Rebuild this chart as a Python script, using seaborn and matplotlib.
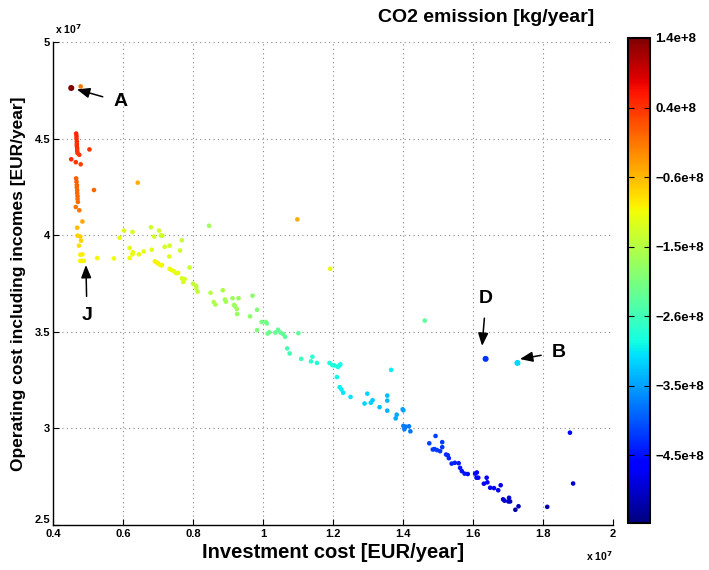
import numpy as np
import pandas as pd
import matplotlib
matplotlib.use("Agg")
import matplotlib.pyplot as plt
import seaborn as sns
from matplotlib.colors import Normalize
from matplotlib.cm import ScalarMappable
from matplotlib.ticker import FuncFormatter

# ---- data (investment & operating cost in units of 1e7 EUR/year, CO2 in 1e8 kg/year)
invest = [
    0.452, 0.479,
    0.466, 0.467, 0.467, 0.468, 0.468, 0.468, 0.469, 0.469, 0.470, 0.452, 0.465, 0.475, 0.479, 0.504,
    0.466, 0.467, 0.468, 0.468, 0.469, 0.469, 0.470, 0.470, 0.471, 0.465, 0.475, 0.517,
    0.642, 0.484, 0.469, 0.470, 0.478, 0.480, 0.474, 0.478, 0.484, 0.478, 0.483, 0.488,
    1.098, 1.192,
    0.526, 0.574, 0.590, 0.603, 0.627, 0.619, 0.628, 0.627, 0.619, 0.645, 0.659,
    0.680, 0.689, 0.703, 0.708, 0.712, 0.682,
    0.691, 0.695, 0.700, 0.707, 0.711,
    0.719, 0.733, 0.732,
    0.733, 0.738, 0.746, 0.752, 0.757,
    0.763, 0.768, 0.768, 0.772, 0.776, 0.790,
    0.800, 0.809, 0.809, 0.813,
    0.846, 0.850, 0.859, 0.864, 0.885, 0.891, 0.894,
    0.913, 0.917, 0.920, 0.925, 0.930, 0.926,
    0.963, 0.970, 0.983, 0.983,
    0.996, 1.008, 1.011, 1.013, 1.018,
    1.035, 1.043, 1.050, 1.057, 1.063, 1.101,
    1.069, 1.076, 1.109,
    1.137, 1.141, 1.154,
    1.190, 1.198, 1.204, 1.214, 1.217, 1.221,
    1.211, 1.219, 1.224, 1.229, 1.250,
    1.290, 1.298, 1.308, 1.313, 1.333,
    1.355, 1.355, 1.355, 1.366,
    1.379, 1.382, 1.399, 1.401,
    1.401, 1.404, 1.408, 1.417, 1.421,
    1.462,
    1.475, 1.485, 1.490, 1.497, 1.506, 1.493, 1.512, 1.512,
    1.523, 1.528, 1.531,
    1.539, 1.548, 1.559, 1.563,
    1.568, 1.576, 1.585,
    1.606, 1.610, 1.611, 1.615,
    1.631, 1.639, 1.641,
    1.649, 1.660, 1.672, 1.679,
    1.686, 1.690, 1.701, 1.703, 1.706,
    1.721, 1.730, 1.812, 1.877, 1.886,
    1.636, 1.727,
]
operating = [
    4.762, 4.770,
    4.526, 4.513, 4.500, 4.485, 4.472, 4.461, 4.449, 4.436, 4.425, 4.393, 4.378, 4.416, 4.367, 4.444,
    4.294, 4.277, 4.260, 4.247, 4.232, 4.217, 4.202, 4.187, 4.172, 4.146, 4.129, 4.234,
    4.272, 4.071, 4.039, 3.998, 3.993, 3.972, 3.946, 3.899, 3.901, 3.867, 3.867, 3.867,
    4.082, 3.826,
    3.882, 3.880, 3.987, 4.024, 4.017, 3.934, 3.912, 3.901, 3.882, 3.901, 3.916,
    4.041, 3.993, 4.024, 3.999, 3.998, 3.925,
    3.865, 3.860, 3.854, 3.845, 3.845,
    3.940, 3.946, 3.890,
    3.826, 3.820, 3.813, 3.803, 3.805,
    3.921, 3.974, 3.777, 3.758, 3.773, 3.833,
    3.749, 3.738, 3.727, 3.708,
    4.049, 3.702, 3.654, 3.641, 3.715, 3.667, 3.656,
    3.674, 3.639, 3.633, 3.618, 3.674, 3.592,
    3.580, 3.687, 3.614, 3.509,
    3.551, 3.551, 3.543, 3.491, 3.498,
    3.496, 3.511, 3.496, 3.489, 3.474, 3.493,
    3.414, 3.388, 3.360,
    3.347, 3.371, 3.339,
    3.339, 3.328, 3.326, 3.318, 3.324, 3.332,
    3.266, 3.213, 3.202, 3.185, 3.163,
    3.129, 3.180, 3.133, 3.146, 3.110,
    3.170, 3.144, 3.092, 3.303,
    3.052, 3.071, 3.099, 3.094,
    3.013, 2.996, 3.009, 3.011, 2.985,
    3.558,
    2.923, 2.891, 2.893, 2.888, 2.882, 2.961, 2.929, 2.903,
    2.865, 2.861, 2.846,
    2.818, 2.822, 2.820, 2.796,
    2.779, 2.766, 2.764,
    2.766, 2.745, 2.772, 2.745,
    2.714, 2.745, 2.721,
    2.693, 2.691, 2.680, 2.706,
    2.633, 2.626, 2.622, 2.641, 2.622,
    2.579, 2.597, 2.594, 2.978, 2.715,
    3.360, 3.339,
]
co2 = [
    1.40, -0.10,
    0.50, 0.50, 0.48, 0.46, 0.45, 0.44, 0.42, 0.40, 0.38, 0.45, 0.40, 0.35, 0.30, 0.40,
    0.10, 0.08, 0.06, 0.05, 0.04, 0.02, 0.00, -0.02, -0.05, -0.08, -0.10, 0.00,
    -0.50, -0.45, -0.60, -0.75, -0.75, -0.78, -0.85, -0.95, -0.95, -1.00, -1.00, -1.00,
    -0.50, -1.15,
    -1.05, -1.08, -1.15, -1.20, -1.25, -1.15, -1.12, -1.12, -1.10, -1.15, -1.18,
    -1.35, -1.30, -1.35, -1.38, -1.38, -1.20,
    -1.00, -1.00, -1.02, -1.05, -1.05,
    -1.30, -1.30, -1.20,
    -1.10, -1.12, -1.12, -1.15, -1.15,
    -1.40, -1.42, -1.25, -1.25, -1.28, -1.40,
    -1.45, -1.45, -1.48, -1.48,
    -1.75, -1.55, -1.60, -1.62, -1.65, -1.70, -1.70,
    -1.75, -1.78, -1.78, -1.80, -1.80, -1.82,
    -1.90, -1.92, -2.00, -2.05,
    -2.10, -2.12, -2.15, -2.20, -2.20,
    -2.22, -2.25, -2.25, -2.28, -2.30, -2.30,
    -2.50, -2.55, -2.60,
    -2.75, -2.75, -2.78,
    -2.85, -2.85, -2.88, -2.88, -2.90, -2.90,
    -2.95, -3.00, -3.00, -3.05, -3.10,
    -3.20, -3.20, -3.22, -3.25, -3.30,
    -3.35, -3.35, -3.40, -3.00,
    -3.50, -3.50, -3.55, -3.55,
    -3.80, -3.80, -3.82, -3.82, -3.85,
    -2.30,
    -4.20, -4.25, -4.25, -4.25, -4.28, -4.20, -4.25, -4.28,
    -4.35, -4.35, -4.38,
    -4.40, -4.42, -4.45, -4.48,
    -4.50, -4.52, -4.55,
    -4.60, -4.62, -4.62, -4.65,
    -4.70, -4.70, -4.72,
    -4.80, -4.82, -4.85, -4.85,
    -5.00, -5.00, -5.02, -5.02, -5.05,
    -5.20, -5.20, -5.20, -4.60, -5.00,
    -4.30, -3.20,
]
highlight = [0] * len(invest)
highlight[0] = 1
highlight[-1] = 1
highlight[-2] = 1

co2_min, co2_max = -5.5, 1.4
cbar_ticks = [1.40, 0.41, -0.58, -1.57, -2.56, -3.55, -4.54]
cbar_labels = ["1.4e+8", "0.4e+8", "\u22120.6e+8", "\u22121.5e+8", "\u22122.6e+8", "\u22123.5e+8", "\u22124.5e+8"]
x_ticks = [0.4, 0.6, 0.8, 1.0, 1.2, 1.4, 1.6, 1.8, 2.0]
y_ticks = [2.5, 3.0, 3.5, 4.0, 4.5, 5.0]

annotations = [
    ("A", (0.468, 4.755), (0.593, 4.690)),
    ("J", (0.494, 3.846), (0.497, 3.582)),
    ("D", (1.626, 3.427), (1.637, 3.672)),
    ("B", (1.734, 3.359), (1.846, 3.395)),
]

df = pd.DataFrame({"invest": invest, "operating": operating, "co2": co2, "hl": highlight})

plt.rcParams["font.family"] = ["Liberation Sans", "DejaVu Sans"]
plt.rcParams["font.weight"] = "bold"

fig = plt.figure(figsize=(7.09, 5.70), dpi=100)
ax = fig.add_axes([0.0748, 0.0789, 0.7898, 0.8474])
cax = fig.add_axes([0.8857, 0.0825, 0.031, 0.851])

jet = matplotlib.colormaps["jet"]
norm = Normalize(vmin=co2_min, vmax=co2_max)
sns.scatterplot(data=df, x="invest", y="operating", hue="co2", palette=jet,
                hue_norm=norm, size="hl", sizes={0: 11, 1: 19}, linewidth=0,
                legend=False, ax=ax, zorder=3)

ax.set_xlim(0.4, 2.0)
ax.set_ylim(2.5, 5.0)
ax.set_xticks(x_ticks)
ax.set_yticks(y_ticks)
fmt = FuncFormatter(lambda v, p: "%g" % v)
ax.xaxis.set_major_formatter(fmt)
ax.yaxis.set_major_formatter(fmt)
ax.grid(True, color="#888888", linestyle=(0, (1, 3)), linewidth=0.8, zorder=0)
ax.set_axisbelow(True)
for s in ("top", "right"):
    ax.spines[s].set_visible(False)
for s in ("left", "bottom"):
    ax.spines[s].set_linewidth(1.0)
ax.tick_params(direction="in", length=4, width=0.8, labelsize=8)
ax.tick_params(axis="x", pad=3)
ax.tick_params(axis="y", pad=2)
for lab in ax.get_xticklabels() + ax.get_yticklabels():
    lab.set_fontweight("bold")
# lift the lowest y label slightly so it sits beside, not on, the first x label
ax.get_yticklabels()[0].set_verticalalignment("bottom")

ax.set_xlabel("Investment cost [EUR/year]", fontsize=14.5, fontweight="bold", labelpad=3)
ax.set_ylabel("Operating cost including incomes [EUR/year]", fontsize=12.5, fontweight="bold", labelpad=6)

ax.text(0.003, 1.012, r"x 10$^{7}$", transform=ax.transAxes, fontsize=7.5, ha="left", va="bottom")
ax.text(1.0, -0.075, r"x 10$^{7}$", transform=ax.transAxes, fontsize=7.5, ha="right", va="baseline")

for label, tip, txt in annotations:
    ax.annotate(label, xy=tip, xytext=txt, fontsize=14, fontweight="bold",
                ha="center", va="center",
                arrowprops=dict(arrowstyle="-|>,head_length=0.55,head_width=0.22",
                                color="black", lw=1.1, shrinkA=6, shrinkB=0))

sm = ScalarMappable(norm=norm, cmap=jet)
cbar = fig.colorbar(sm, cax=cax)
cbar.set_ticks(cbar_ticks)
cbar.set_ticklabels(cbar_labels)
cbar.outline.set_linewidth(1.5)
cax.tick_params(direction="in", length=4, width=0.8, left=True, right=True,
                labelsize=9.5, pad=4)
for lab in cax.get_yticklabels():
    lab.set_fontweight("bold")

fig.text(0.686, 0.970, "CO2 emission [kg/year]", fontsize=14, fontweight="bold",
         ha="center", va="center")

fig.savefig("out.png", dpi=100)
